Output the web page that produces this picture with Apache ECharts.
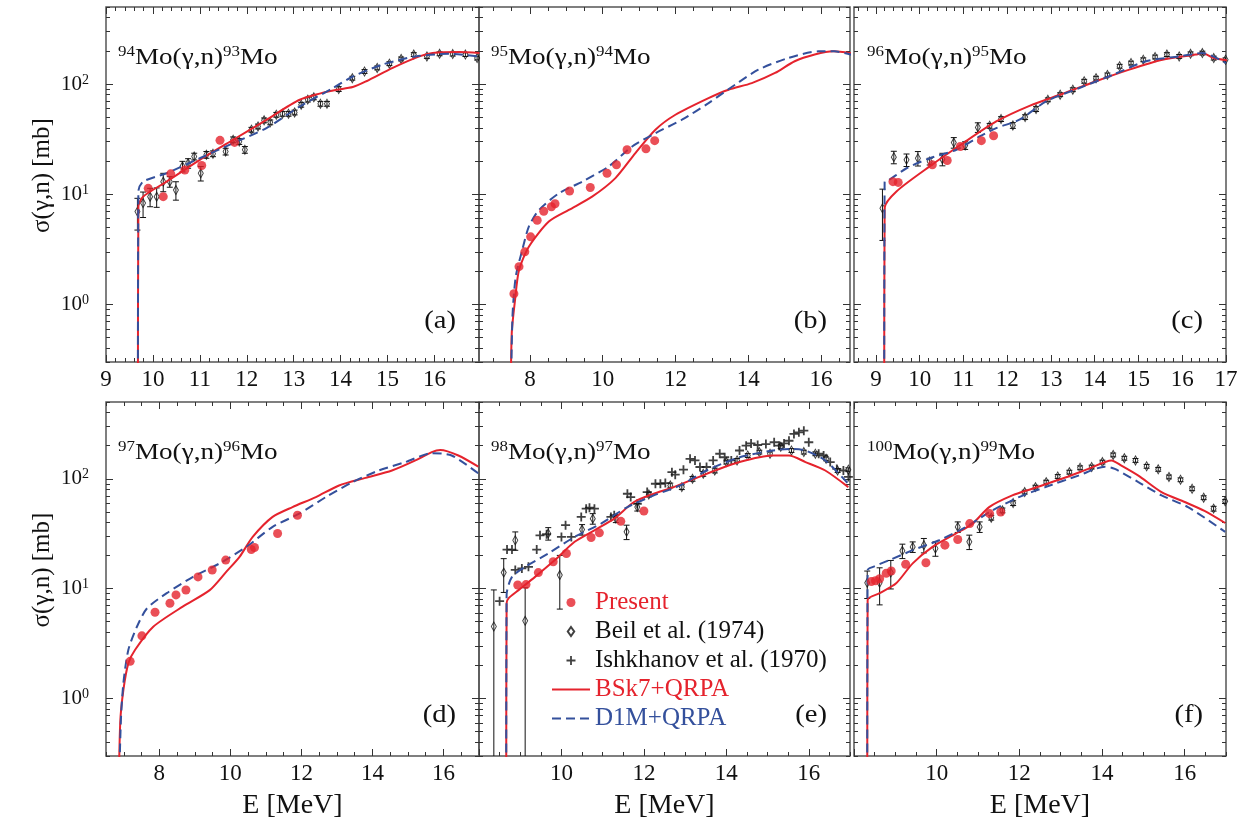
<!DOCTYPE html>
<html><head><meta charset="utf-8">
<script src="https://cdn.jsdelivr.net/npm/echarts@6/dist/echarts.min.js"></script>
<style>html,body{margin:0;padding:0;background:#fff}#c{width:1238px;height:824px}</style>
</head><body><div id="c"></div><script>
// ---------------- DATA ----------------
// [E (MeV), sigma (mb)]
const aBSk7 = [[9.68,0.1],[9.69,7.7],[9.79,9.5],[10.29,13.0],[11.0,20.5],[11.71,31.2],[12.42,47.3],[13.13,72],[13.84,87.5],[14.26,93.8],[14.55,106],[15.11,140],[15.68,178],[15.96,191],[16.53,195],[16.96,191]];
const aD1M = [[9.68,0.1],[9.69,10.6],[9.79,13.0],[10.29,15.5],[11.0,21.2],[11.71,29.1],[12.42,39.8],[13.13,62.5],[13.84,92],[14.26,117],[14.89,150],[15.6,178],[16.32,188],[16.96,178]];
const aPresent = [[9.90,11.3],[10.22,9.5],[10.38,15.3],[10.68,16.6],[11.04,18.2],[11.43,30.8],[11.74,29.5]];
// [E, sigma, error %]
const aBeil = [[9.67,6.95,32],[9.79,8.3,26],[9.94,9.5,19],[10.08,9.5,20],[10.22,13.0,19],[10.36,13.0,11],[10.49,10.9,19],[10.63,17.9,11],[10.75,19.1,10],[10.88,22.0,7],[11.02,15.5,15],[11.14,22.8,7],[11.28,23.3,6],[11.55,24.4,7],[11.71,31.2,6],[11.84,30.1,6],[11.96,25.3,7],[12.10,38.5,5],[12.24,41.2,5],[12.37,46.8,5],[12.50,44.9,5],[12.63,52.6,5],[12.76,53.7,5],[12.89,53.7,5],[13.02,55.2,5],[13.16,64.9,5],[13.30,72.2,5],[13.43,75.7,5],[13.57,66.2,5],[13.71,66.2,5],[13.96,90.1,5],[14.25,113,4],[14.51,130,4],[14.78,140,4],[15.04,153,4],[15.29,169,4],[15.56,185,4],[15.84,178,4],[16.11,188,4],[16.39,187,4],[16.66,185,4],[16.91,172,4]];

const bBSk7 = [[7.47,0.1],[7.50,0.545],[7.59,1.09],[7.70,2.05],[7.97,3.34],[8.52,5.65],[9.07,7.2],[9.71,9.5],[10.35,14.0],[10.90,23.6],[11.45,38.5],[12.0,52.6],[12.91,74.5],[13.46,88.8],[14.1,102],[14.74,126],[15.28,161],[15.83,185],[16.34,198],[16.93,188]];
const bD1M = [[7.47,0.1],[7.52,0.77],[7.61,1.78],[7.79,3.12],[7.97,5.08],[8.25,7.2],[8.80,10.2],[9.44,13.0],[10.17,17.9],[10.81,27.1],[11.45,35.8],[12.18,47.4],[12.91,67.1],[13.64,98.6],[14.28,135],[15.10,172],[15.93,198],[16.38,198],[16.93,181]];
const bPresent = [[7.56,1.25],[7.70,2.2],[7.86,3.0],[8.02,4.1],[8.20,5.8],[8.38,7.0],[8.59,7.7],[8.69,8.2],[9.09,10.7],[9.66,11.5],[10.12,15.5],[10.38,18.5],[10.67,25.3],[11.19,25.8],[11.43,30.6]];

const cBSk7 = [[9.19,0.1],[9.20,7.5],[9.47,10.6],[10.23,17.9],[10.99,29],[11.75,45.7],[12.51,63.4],[13.27,81.6],[14.03,106],[14.79,135],[15.55,166],[16.31,185],[16.46,191],[16.72,172],[17.03,164]];
const cD1M = [[9.19,0.1],[9.20,13.0],[9.28,13.3],[9.70,17.2],[10.23,21.2],[10.84,25.3],[11.37,33.4],[11.75,39.8],[12.28,47.4],[12.89,69.5],[13.65,92],[14.41,121],[15.17,161],[15.93,178],[16.46,191],[17.0,155]];
const cPresent = [[9.39,13.0],[9.51,12.8],[10.29,18.5],[10.63,20.2],[10.93,27.1],[11.41,30.6],[11.69,33.9]];
const cBeil = [[9.15,7.46,49],[9.41,21.7,13],[9.70,20.5,13],[9.96,21.2,15],[10.23,19.8,7],[10.52,20.8,13],[10.78,29.4,11],[11.04,27.7,8],[11.33,40.4,10],[11.60,41.8,5],[11.86,48.1,5],[12.13,42.1,6],[12.41,50.1,5],[12.66,59.3,5],[12.93,71.9,4],[13.21,80,4],[13.50,88.8,4],[13.76,106,4],[14.03,113,4],[14.29,121,4],[14.57,145,4],[14.83,155,4],[15.11,166,4],[15.38,176,4],[15.65,185,4],[15.93,178,4],[16.19,188,4],[16.46,191,4],[16.72,172,4],[16.99,166,4]];

const dBSk7 = [[6.85,0.1],[6.9,0.6],[6.99,1.2],[7.13,2.1],[7.32,2.78],[7.83,4.5],[8.67,6.9],[9.42,9.7],[9.89,14.3],[10.26,19.5],[10.63,29.6],[11.19,45],[11.75,55.3],[12.41,68.2],[13.06,87],[13.81,102],[14.55,119],[15.21,147],[15.67,175],[15.91,183],[16.42,163],[16.98,129]];
const dD1M = [[6.85,0.1],[6.92,0.645],[6.99,1.39],[7.13,2.78],[7.37,4.5],[7.65,6.6],[8.21,9.1],[8.95,12.8],[9.7,17],[10.45,24],[11.19,36.5],[11.94,48.2],[12.69,68.2],[13.43,93],[14.18,119],[14.93,142],[15.67,171],[16.23,163],[16.98,112]];
const dPresent = [[7.18,2.18],[7.51,3.72],[7.88,6.1],[8.30,7.36],[8.47,8.77],[8.75,9.73],[9.09,12.8],[9.49,14.8],[9.87,18.2],[10.59,22.7],[10.68,23.7],[11.33,31.8],[11.89,46.6]];

const eBSk7 = [[8.66,0.1],[8.67,7.36],[8.72,8.2],[8.96,9.7],[9.36,12.8],[9.84,18.2],[10.32,26.7],[10.8,34],[11.28,43.4],[11.76,61.5],[12.24,73.1],[12.72,84],[13.52,111],[14.32,142],[15.12,163],[15.52,163],[15.92,142],[16.4,119],[16.96,84]];
const eD1M = [[8.66,0.1],[8.67,8.8],[8.8,12.8],[9.12,15.8],[9.68,20.9],[10.32,29.6],[10.96,39.1],[11.6,55.3],[12.24,70.6],[12.88,87],[13.52,119],[14.32,157],[15.12,181],[15.6,187],[15.92,181],[16.4,147],[16.96,90]];
const ePresent = [[8.94,10.8],[9.14,10.9],[9.44,14],[9.8,17.6],[10.12,20.9],[10.72,29.2],[10.92,32.2],[11.44,41],[12.0,50.9]];
const eBeil = [[8.36,4.53,115],[8.6,14,34],[8.88,27.6,19],[9.12,5.1,100],[9.68,31.8,13],[9.96,13.3,51],[10.5,34.5,11],[10.76,43.4,11],[11.32,43.4,8],[11.58,32.9,15],[11.84,55.3,8],[12.12,72.1,5],[12.64,87,5],[12.92,84,5],[13.18,100,5],[13.44,111,5],[13.72,119,5],[14.0,142,4],[14.26,147,4],[14.52,163,4],[14.8,175,4],[15.06,169,4],[15.32,196,4],[15.58,181,4],[15.88,175,4],[16.16,169,4],[16.42,152,4],[16.7,119,4],[16.96,121,4]];
const eIshkhanov = [[8.5,7.7],[8.68,22.7],[8.8,22.7],[8.88,14.8],[9.04,15.3],[9.2,15.8],[9.4,22.7],[9.48,30.6],[9.64,31.3],[10.0,29.6],[10.1,37.8],[10.24,29.6],[10.48,45],[10.6,53.5],[10.68,54.6],[10.8,53.5],[11.2,45],[11.28,46.6],[11.6,73.1],[11.68,68.2],[11.84,59.3],[12.08,75.7],[12.28,90.1],[12.4,90.1],[12.52,91.4],[12.68,115],[12.76,109],[12.96,121],[13.12,152],[13.24,147],[13.36,128],[13.52,128],[13.68,147],[13.84,169],[13.96,157],[14.12,147],[14.32,181],[14.48,200],[14.6,210],[14.76,203],[14.96,207],[15.16,215],[15.28,200],[15.4,210],[15.52,222],[15.64,256],[15.76,265],[15.88,274],[16.0,215],[16.24,169],[16.36,163],[16.52,142],[16.68,123],[16.84,119],[16.96,104]];

const fBSk7 = [[8.32,0.1],[8.33,7.9],[8.62,9.1],[9.02,11.2],[9.42,17],[9.9,24],[10.47,31.8],[10.87,39.1],[11.27,55.3],[11.83,70.6],[12.31,81.2],[13.03,100],[13.67,123],[14.23,147],[14.47,132],[14.88,107],[15.44,75.7],[16.0,61.5],[16.48,51],[16.98,39.6]];
const fD1M = [[8.32,0.1],[8.33,14.8],[8.46,15.8],[8.86,18.2],[9.42,22.4],[10.06,27.6],[10.71,36.5],[11.35,51.6],[11.99,68.2],[12.63,84],[13.43,107],[14.07,129],[14.31,123],[14.88,93.3],[15.44,70.6],[16.08,55.3],[16.98,32.9]];
const fPresent = [[8.42,11.6],[8.52,11.8],[8.62,12.3],[8.78,13.8],[8.9,14.5],[9.25,16.7],[9.74,17.2],[10.2,24.9],[10.51,28],[10.8,39.1],[11.28,48.2],[11.55,49.9]];
const fBeil = [[8.32,11.3,28],[8.62,11.3,37],[8.89,14,29],[9.17,22.1,15],[9.42,24,11],[9.69,24.9,15],[9.97,23.2,15],[10.51,36.5,11],[10.79,26.7,15],[11.04,36.5,11],[11.32,44.3,5],[11.59,51.6,5],[11.85,60.1,5],[12.13,75.7,4],[12.39,84,4],[12.65,93.3,4],[12.93,105,4],[13.21,115,4],[13.47,126,4],[13.75,128,4],[14.01,142,4],[14.27,165,4],[14.54,154,4],[14.81,147,4],[15.08,130,4],[15.36,122,4],[15.62,104,4],[15.9,98,4],[16.18,81.2,4],[16.46,67.3,4],[16.7,53.5,5],[16.98,62.4,4]];

// tick values / labels
const xTicksA = [9,10,11,12,13,14,15,16];
const xTicksB = [8,10,12,14,16];
const xTicksC = [9,10,11,12,13,14,15,16,17];
const xTicksD = [8,10,12,14,16];
const xTicksEF = [8,10,12,14,16];
const xLabelsEF = [10,12,14,16];
const yTicks = [1,10,100];
const Y_MIN = 0.3, Y_MAX = 500;

const panelTitles = ['{s|94}Mo(γ,n){s|93}Mo','{s|95}Mo(γ,n){s|94}Mo','{s|96}Mo(γ,n){s|95}Mo','{s|97}Mo(γ,n){s|96}Mo','{s|98}Mo(γ,n){s|97}Mo','{s|100}Mo(γ,n){s|99}Mo'];
const panelLetters = ['(a)','(b)','(c)','(d)','(e)','(f)'];
const N_PRESENT = 'Present', N_BEIL = 'Beil et al. (1974)', N_ISH = 'Ishkhanov et al. (1970)', N_BSK = 'BSk7+QRPA', N_D1M = 'D1M+QRPA';

// ---------------- STYLE / LAYOUT ----------------
const FONT = 'Liberation Serif';
const RED = '#e5232d', BLUE = '#34509c', FRAME = '#555';
const DIAMOND = 'path://M5,0L10,7L5,14L0,7Z';
const PLUS = 'path://M4,0H6V4H10V6H6V10H4V6H0V4H4Z';
const panels = [
  {left:106, top:7,   width:373, height:355, xMin:9,   xMax:16.95, xMajor:xTicksA, xLab:xTicksA, minorStep:0.2, yLab:true,  data:{bsk:aBSk7,d1m:aD1M,pres:aPresent,beil:aBeil}},
  {left:479, top:7,   width:371, height:355, xMin:6.6, xMax:16.8,  xMajor:xTicksB, xLab:xTicksB, minorStep:0.5, yLab:false, data:{bsk:bBSk7,d1m:bD1M,pres:bPresent}},
  {left:854, top:7,   width:372, height:355, xMin:8.5, xMax:17,    xMajor:xTicksC, xLab:xTicksC, minorStep:0.2, yLab:false, data:{bsk:cBSk7,d1m:cD1M,pres:cPresent,beil:cBeil}},
  {left:106, top:402, width:373, height:354, xMin:6.5, xMax:17,    xMajor:xTicksD, xLab:xTicksD, minorStep:0.5, yLab:true,  data:{bsk:dBSk7,d1m:dD1M,pres:dPresent}, xName:true},
  {left:479, top:402, width:371, height:354, xMin:8,   xMax:17,    xMajor:xTicksEF, xLab:xLabelsEF, minorStep:0.5, yLab:false, data:{bsk:eBSk7,d1m:eD1M,pres:ePresent,beil:eBeil,ish:eIshkhanov}, xName:true},
  {left:854, top:402, width:372, height:354, xMin:8,   xMax:17,    xMajor:xTicksEF, xLab:xLabelsEF, minorStep:0.5, yLab:false, data:{bsk:fBSk7,d1m:fD1M,pres:fPresent,beil:fBeil}, xName:true}
];

function minorTicks(lo, hi, step, majors) {
  const out = [];
  const n0 = Math.ceil(lo / step - 1e-9), n1 = Math.floor(hi / step + 1e-9);
  for (let n = n0; n <= n1; n++) {
    const v = Math.round(n * step * 1000) / 1000;
    if (!majors.some(m => Math.abs(m - v) < 1e-6)) out.push(v);
  }
  return out;
}
function logMinor(lo, hi, majors) {
  const out = [];
  [0.1, 1, 10, 100].forEach(d => { for (let k = 2; k <= 9; k++) { const v = Math.round(k * d * 1000) / 1000; if (v >= lo && v <= hi && majors.indexOf(v) < 0) out.push(v); } });
  return out;
}
const yMinor = logMinor(Y_MIN, Y_MAX, yTicks);

const grids = [], xAxes = [], yAxes = [], series = [], graphics = [];
const tickStyle = {color:'#333', width:1};

panels.forEach((p, i) => {
  grids.push({left:p.left, top:p.top, width:p.width, height:p.height, show:true, borderColor:FRAME, borderWidth:1.5, backgroundColor:'transparent', containLabel:false, outerBoundsMode:'none'});
  const xMinor = minorTicks(p.xMin, p.xMax, p.minorStep, p.xMajor);
  const baseX = {gridIndex:i, type:'value', min:p.xMin, max:p.xMax, axisLine:{show:false, onZero:false}, splitLine:{show:false}};
  xAxes.push(Object.assign({}, baseX, {position:'bottom',
    axisTick:{show:true, inside:true, length:7, customValues:p.xMajor, lineStyle:tickStyle},
    axisLabel:{show:true, customValues:p.xLab, margin:6, fontSize:23, color:'#111', fontFamily:FONT},
    name: p.xName ? 'E [MeV]' : '', nameLocation:'middle', nameGap:36,
    nameTextStyle:{fontFamily:FONT, fontSize:28, color:'#111'}}));
  xAxes.push(Object.assign({}, baseX, {position:'bottom', axisTick:{show:true, inside:true, length:4, customValues:xMinor, lineStyle:tickStyle}, axisLabel:{show:false}}));
  xAxes.push(Object.assign({}, baseX, {position:'top', axisTick:{show:true, inside:true, length:7, customValues:p.xMajor, lineStyle:tickStyle}, axisLabel:{show:false}}));
  xAxes.push(Object.assign({}, baseX, {position:'top', axisTick:{show:true, inside:true, length:4, customValues:xMinor, lineStyle:tickStyle}, axisLabel:{show:false}}));

  const baseY = {gridIndex:i, type:'log', logBase:10, min:Y_MIN, max:Y_MAX, axisLine:{show:false, onZero:false}, splitLine:{show:false}, minorSplitLine:{show:false}};
  yAxes.push(Object.assign({}, baseY, {position:'left',
    axisTick:{show:true, inside:true, length:7, customValues:yTicks, lineStyle:tickStyle},
    axisLabel:{show:p.yLab, customValues:yTicks, margin:17, fontSize:21, lineHeight:22, color:'#111', fontFamily:FONT,
      formatter: v => '10{s|' + Math.round(Math.log10(v)) + '}',
      rich:{s:{fontSize:14, lineHeight:14, verticalAlign:'top', color:'#111', fontFamily:FONT}}}}));
  yAxes.push(Object.assign({}, baseY, {position:'left', axisTick:{show:true, inside:true, length:4, customValues:yMinor, lineStyle:tickStyle}, axisLabel:{show:false}}));
  yAxes.push(Object.assign({}, baseY, {position:'right', axisTick:{show:true, inside:true, length:7, customValues:yTicks, lineStyle:tickStyle}, axisLabel:{show:false}}));
  yAxes.push(Object.assign({}, baseY, {position:'right', axisTick:{show:true, inside:true, length:4, customValues:yMinor, lineStyle:tickStyle}, axisLabel:{show:false}}));

  const ax = {xAxisIndex:4*i, yAxisIndex:4*i};
  const d = p.data;
  if (d.beil) {
    series.push(Object.assign({type:'custom', name:N_BEIL + ' err', data:d.beil, clip:true, z:3, silent:true,
      encode:{x:0, y:1},
      renderItem:(params, api) => {
        const x = api.value(0), v = api.value(1), pc = api.value(2);
        const hiV = v * (1 + pc / 100);
        const rawLo = v * (1 - pc / 100);
        const clamped = rawLo <= Y_MIN;
        const loV = clamped ? Y_MIN : rawLo;
        const t = api.coord([x, hiV]), b = api.coord([x, loV]);
        const st = {stroke:'#111', lineWidth:1};
        const ch = [{type:'line', shape:{x1:t[0], y1:t[1], x2:b[0], y2:b[1]}, style:st},
                    {type:'line', shape:{x1:t[0]-3, y1:t[1], x2:t[0]+3, y2:t[1]}, style:st}];
        if (!clamped) ch.push({type:'line', shape:{x1:b[0]-3, y1:b[1], x2:b[0]+3, y2:b[1]}, style:st});
        return {type:'group', children:ch};
      }}, ax));
    series.push(Object.assign({type:'scatter', name:N_BEIL, data:d.beil.map(r => [r[0], r[1]]), symbol:DIAMOND, symbolSize:[7,9], symbolKeepAspect:true, z:4,
      itemStyle:{color:'rgba(255,255,255,0)', borderColor:'#111', borderWidth:1}}, ax));
  }
  if (d.ish) {
    series.push(Object.assign({type:'scatter', name:N_ISH, data:d.ish, symbol:PLUS, symbolSize:9, z:4,
      itemStyle:{color:'#111'}}, ax));
  }
  series.push(Object.assign({type:'line', name:N_BSK, data:d.bsk, symbol:'none', showSymbol:false, smooth:0.25, clip:true, z:5,
    lineStyle:{color:RED, width:2}, itemStyle:{color:RED}}, ax));
  series.push(Object.assign({type:'line', name:N_D1M, data:d.d1m, symbol:'none', showSymbol:false, smooth:0.25, clip:true, z:5,
    lineStyle:{color:BLUE, width:2, type:[9,5]}, itemStyle:{color:BLUE}}, ax));
  series.push(Object.assign({type:'scatter', name:N_PRESENT, data:d.pres, symbol:'circle', symbolSize:9, z:6,
    itemStyle:{color:RED}}, ax));

  // panel title and letter (source figure is slightly stretched horizontally)
  const titleX = p.left + (i % 3 === 2 ? 13 : 12);
  graphics.push({type:'text', x:titleX, y:p.top + 51, scaleX:1.13, silent:true, style:{text:panelTitles[i], fontFamily:FONT, fontSize:24, lineHeight:26, fill:'#111', verticalAlign:'middle', align:'left',
    rich:{s:{fontSize:15, lineHeight:15, verticalAlign:'top', fill:'#111', fontFamily:FONT}}}});
  graphics.push({type:'text', x:p.left + p.width - 23, y:p.top + p.height - 41, scaleX:1.1, silent:true, style:{text:panelLetters[i], fontFamily:FONT, fontSize:26, fill:'#111', align:'right', verticalAlign:'middle'}});
});

// y axis titles
[panels[0], panels[3]].forEach(p => {
  graphics.push({type:'text', x:42, y:p.top + p.height / 2 - 9, rotation:Math.PI / 2, silent:true,
    style:{text:'σ(γ,n) [mb]', fontFamily:FONT, fontSize:25, fill:'#111', align:'center', verticalAlign:'middle'}});
});

const hideSym = {opacity:0};
const option = {
  animation:false,
  backgroundColor:'#fff',
  grid:grids, xAxis:xAxes, yAxis:yAxes, series:series,
  legend:{orient:'vertical', left:546, top:583, itemWidth:38, itemHeight:9, itemGap:0, selectedMode:false, symbolKeepAspect:true,
    textStyle:{fontFamily:FONT, fontSize:25, lineHeight:29, color:'#111'},
    data:[{name:N_PRESENT, textStyle:{color:RED}}, {name:N_BEIL, textStyle:{color:'#111'}}, {name:N_ISH, textStyle:{color:'#111'}},
          {name:N_BSK, itemStyle:hideSym, textStyle:{color:RED}}, {name:N_D1M, itemStyle:hideSym, textStyle:{color:BLUE}}]},
  graphic:graphics
};
const chart = echarts.init(document.getElementById('c'), null, {renderer:'canvas'});
chart.setOption(option);
</script></body></html>
